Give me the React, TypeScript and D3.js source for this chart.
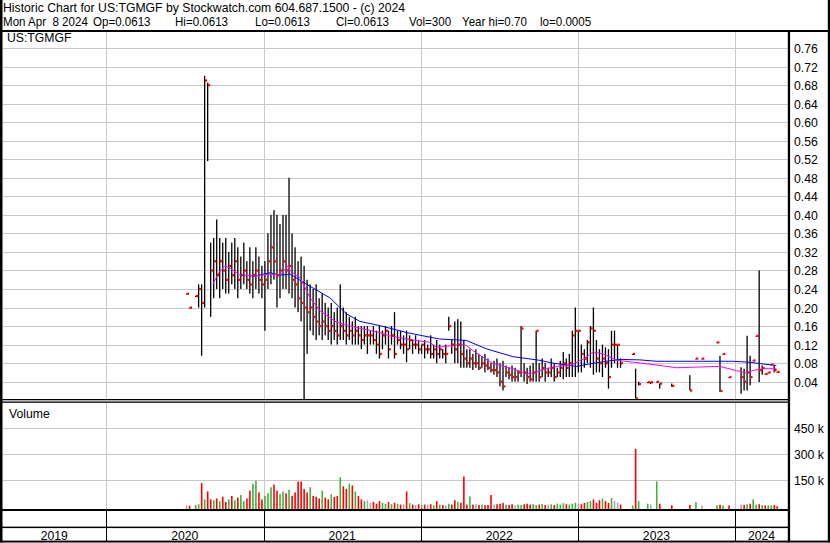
import React from "react";
import * as d3 from "d3";

// ---------------- DATA ----------------
const weekStart = "2020-07-06";

const weekHigh: (number | null)[] = [
  0.23, 0.2, null, 0.225, 0.25, 0.25, 0.7, 0.685, 0.34, 0.35,
  0.39, 0.35, 0.34, 0.35, 0.32, 0.34, 0.35, 0.33, 0.31, 0.34,
  0.3, 0.33, 0.3, 0.33, 0.31, 0.29, 0.3, 0.36, 0.4, 0.41,
  0.4, 0.38, 0.4, 0.4, 0.48, 0.36, 0.33, 0.3, 0.31, 0.29,
  0.26, 0.25, 0.24, 0.25, 0.22, 0.23, 0.21, 0.2, 0.21, 0.19,
  0.2, 0.25, 0.2, 0.19, 0.18, 0.17, 0.18, 0.16, 0.16, 0.16,
  0.16, 0.15, 0.16, 0.15, 0.16, 0.15, 0.16, 0.15, 0.16, 0.19,
  0.15, 0.15, 0.14, 0.15, 0.14, 0.13, 0.14, 0.13, 0.12, 0.13,
  0.12, 0.14, 0.12, 0.13, 0.12, 0.11, 0.12, 0.18, 0.13, 0.17,
  0.175, 0.17, 0.13, 0.11, 0.11, 0.1, 0.11, 0.1, 0.095, 0.1,
  0.09, 0.08, 0.085, 0.09, 0.08, 0.085, 0.075, 0.07, 0.075, 0.07,
  0.065, 0.16, 0.08, 0.07, 0.075, 0.08, 0.15, 0.08, 0.09, 0.08,
  0.07, 0.09, 0.08, 0.07, 0.085, 0.104, 0.09, 0.1, 0.15, 0.2,
  0.15, 0.12, 0.11, 0.13, 0.16, 0.2, 0.13, 0.11, 0.12, 0.114,
  0.11, 0.15, 0.15, 0.12, 0.09, null, null, null, 0.1, 0.068,
  0.04, null, null, 0.039, 0.039, null, 0.04, 0.036, null, null,
  null, 0.036, null, null, null, null, null, 0.054, null, 0.09,
  null, 0.09, null, null, null, null, 0.125, 0.096, 0.1, null,
  0.05, null, null, null, 0.071, 0.068, 0.139, 0.096, 0.086, 0.139,
  0.28, 0.075, 0.057, 0.06, 0.077, 0.075, 0.0613,
];

const weekLow: (number | null)[] = [
  0.23, 0.2, null, 0.225, 0.2, 0.096, 0.2, 0.516, 0.18, 0.22,
  0.24, 0.22, 0.24, 0.23, 0.23, 0.25, 0.24, 0.22, 0.24, 0.25,
  0.24, 0.23, 0.22, 0.24, 0.23, 0.22, 0.15, 0.24, 0.25, 0.26,
  0.2, 0.22, 0.24, 0.24, 0.23, 0.22, 0.2, 0.19, 0.17, 0.0005,
  0.1, 0.15, 0.14, 0.13, 0.14, 0.13, 0.14, 0.13, 0.12, 0.13,
  0.12, 0.13, 0.13, 0.12, 0.13, 0.12, 0.12, 0.12, 0.11, 0.12,
  0.1, 0.12, 0.12, 0.1, 0.09, 0.11, 0.12, 0.09, 0.12, 0.09,
  0.12, 0.11, 0.1, 0.082, 0.11, 0.1, 0.11, 0.1, 0.1, 0.09,
  0.1, 0.09, 0.09, 0.08, 0.09, 0.09, 0.08, 0.15, 0.1, 0.08,
  0.08, 0.07, 0.07, 0.07, 0.07, 0.065, 0.07, 0.065, 0.07, 0.06,
  0.065, 0.06, 0.055, 0.05, 0.03, 0.021, 0.05, 0.045, 0.04, 0.04,
  0.04, 0.05, 0.04, 0.035, 0.04, 0.04, 0.04, 0.04, 0.05, 0.04,
  0.05, 0.05, 0.04, 0.05, 0.05, 0.045, 0.05, 0.05, 0.05, 0.05,
  0.06, 0.06, 0.07, 0.08, 0.07, 0.055, 0.06, 0.06, 0.05, 0.07,
  0.025, 0.07, 0.08, 0.07, 0.07, null, null, null, 0.1, 0.004,
  0.032, null, null, 0.039, 0.035, null, 0.04, 0.025, null, null,
  null, 0.029, null, null, null, null, null, 0.021, null, 0.09,
  null, 0.09, null, null, null, null, 0.125, 0.018, 0.1, null,
  0.05, null, null, null, 0.014, 0.021, 0.021, 0.032, 0.086, 0.139,
  0.039, 0.055, 0.057, 0.06, 0.077, 0.06, 0.0613,
];

const weekClose: (number | null)[] = [
  0.23, 0.2, null, 0.225, 0.24, 0.21, 0.69, 0.68, 0.28, 0.3,
  0.27, 0.3, 0.28, 0.26, 0.29, 0.27, 0.3, 0.26, 0.27, 0.28,
  0.26, 0.25, 0.27, 0.28, 0.26, 0.25, 0.26, 0.3, 0.33, 0.3,
  0.27, 0.28, 0.3, 0.28, 0.29, 0.26, 0.25, 0.22, 0.21, 0.2,
  0.19, 0.2, 0.18, 0.17, 0.16, 0.17, 0.16, 0.15, 0.16, 0.15,
  0.14, 0.16, 0.15, 0.14, 0.15, 0.14, 0.15, 0.14, 0.13, 0.14,
  0.14, 0.14, 0.13, 0.12, 0.1, 0.14, 0.15, 0.11, 0.14, 0.1,
  0.13, 0.12, 0.12, 0.11, 0.13, 0.12, 0.12, 0.11, 0.12, 0.11,
  0.11, 0.1, 0.11, 0.1, 0.11, 0.1, 0.1, 0.16, 0.12, 0.11,
  0.12, 0.1, 0.09, 0.08, 0.09, 0.08, 0.08, 0.07, 0.08, 0.075,
  0.07, 0.065, 0.065, 0.06, 0.04, 0.03, 0.06, 0.055, 0.05, 0.05,
  0.06, 0.155, 0.06, 0.05, 0.045, 0.06, 0.15, 0.05, 0.07, 0.06,
  0.06, 0.07, 0.05, 0.06, 0.07, 0.08, 0.07, 0.08, 0.14, 0.15,
  0.15, 0.1, 0.09, 0.125, 0.155, 0.15, 0.09, 0.08, 0.09, 0.08,
  0.05, 0.12, 0.12, 0.12, 0.08, null, null, null, 0.1, 0.004,
  0.035, null, null, 0.039, 0.039, null, 0.04, 0.036, null, null,
  null, 0.031, null, null, null, null, null, 0.021, null, 0.09,
  null, 0.09, null, null, null, null, 0.125, 0.02, 0.1, null,
  0.05, null, null, null, 0.05, 0.04, 0.06, 0.05, 0.086, 0.139,
  0.065, 0.07, 0.057, 0.06, 0.077, 0.065, 0.0613,
];

// volume in thousands of shares
const weekVolK: number[] = [
  5, 3, 0, 8, 12, 134, 40, 86, 40, 35,
  45, 30, 55, 25, 40, 60, 35, 50, 65, 30,
  45, 90, 130, 147, 80, 40, 60, 75, 110, 125,
  90, 70, 85, 75, 95, 60, 80, 143, 143, 100,
  80, 110, 60, 55, 45, 90, 50, 40, 70, 55,
  60, 167, 115, 100, 130, 120, 85, 60, 40, 30,
  35, 20, 25, 15, 30, 20, 15, 25, 12, 20,
  15, 10, 12, 86, 18, 10, 8, 12, 6, 10,
  8, 12, 6, 30, 10, 8, 6, 15, 10, 35,
  25, 20, 172, 10, 57, 10, 12, 8, 10, 6,
  8, 65, 10, 12, 15, 20, 10, 8, 12, 6,
  10, 8, 12, 15, 10, 12, 8, 10, 14, 8,
  10, 12, 8, 15, 10, 18, 12, 10, 15, 20,
  15, 12, 20, 25, 30, 40, 20, 35, 45, 30,
  20, 48, 30, 22, 10, 0, 0, 0, 5, 331,
  30, 0, 0, 15, 10, 0, 144, 15, 0, 0,
  0, 6, 0, 0, 0, 0, 0, 8, 0, 24,
  0, 5, 0, 0, 0, 0, 5, 9, 5, 0,
  5, 0, 0, 0, 10, 8, 12, 15, 40, 10,
  12, 8, 5, 6, 5, 8, 0.3,
];

// moving averages
const maLongDates = [
  "2020-11-07", "2020-12-12", "2021-01-16", "2021-02-08", "2021-03-04", "2021-04-11",
  "2021-06-04", "2021-07-13", "2021-08-13", "2021-09-28", "2021-11-29", "2022-01-06",
  "2022-02-14", "2022-04-17", "2022-06-02", "2022-08-03", "2022-10-05", "2022-11-04",
  "2022-12-30", "2023-02-06", "2023-04-09", "2023-05-25", "2023-07-03", "2023-12-26",
  "2024-02-04", "2024-02-27", "2024-04-06",
];
const maLongVals = [
  0.27, 0.268, 0.275, 0.27, 0.272, 0.25,
  0.221, 0.186, 0.17, 0.161, 0.146, 0.139,
  0.132, 0.129, 0.111, 0.094, 0.086, 0.08,
  0.073, 0.08, 0.088, 0.087, 0.084, 0.084,
  0.082, 0.079, 0.075,
];

const maShortDates = [
  "2020-09-05", "2020-09-19", "2020-10-03", "2020-10-15", "2020-11-07", "2020-12-12",
  "2021-01-16", "2021-02-08", "2021-02-27", "2021-03-04", "2021-03-27", "2021-04-19",
  "2021-05-12", "2021-06-20", "2021-08-05", "2021-09-28", "2021-10-21", "2021-11-29",
  "2022-01-22", "2022-02-07", "2022-03-17", "2022-04-02", "2022-04-17", "2022-05-02",
  "2022-06-18", "2022-08-03", "2022-09-03", "2022-09-19", "2022-10-21", "2022-11-13",
  "2022-12-14", "2023-01-14", "2023-02-06", "2023-03-01", "2023-04-01", "2023-05-10",
  "2023-07-11", "2023-08-18", "2023-11-26", "2024-01-04", "2024-01-27", "2024-02-11",
  "2024-03-06", "2024-04-06",
];
const maShortVals = [
  0.25, 0.275, 0.29, 0.285, 0.27, 0.268,
  0.272, 0.27, 0.29, 0.279, 0.264, 0.221,
  0.193, 0.168, 0.157, 0.146, 0.139, 0.132,
  0.125, 0.114, 0.118, 0.121, 0.118, 0.107,
  0.079, 0.068, 0.057, 0.059, 0.068, 0.073,
  0.075, 0.089, 0.104, 0.1, 0.086, 0.082,
  0.075, 0.07, 0.073, 0.064, 0.059, 0.064,
  0.068, 0.068,
];

const priceTicks = [0.04, 0.08, 0.12, 0.16, 0.2, 0.24, 0.28, 0.32, 0.36, 0.4, 0.44, 0.48, 0.52, 0.56, 0.6, 0.64, 0.68, 0.72, 0.76];
const volTicks = [150000, 300000, 450000];
const volTickLabels = ["150 k", "300 k", "450 k"];
const yearStarts = ["2020-01-01", "2021-01-01", "2022-01-01", "2023-01-01", "2024-01-01"];
const yearLabels = ["2019", "2020", "2021", "2022", "2023", "2024"];

const headerLine1 = "Historic Chart for US:TGMGF by Stockwatch.com 604.687.1500 - (c) 2024";
// second header line, as its separate fields
const headerFields = ["Mon Apr  8 2024", "Op=0.0613", "Hi=0.0613", "Lo=0.0613", "Cl=0.0613", "Vol=300", "Year hi=0.70", "lo=0.0005"];
const symbolLabel = "US:TGMGF";
const volumeLabel = "Volume";

// ---------------- CHART ----------------
const W = 830;
const H = 543;
const FONT = "'Liberation Sans', Arial, sans-serif";
const GRID = "#c8c8c8";
const HEADER_FIELD_X = [3, 93, 175, 255, 336, 409, 462, 540];

function Txt(props: { x: number; y: number; anchor?: string; sx?: number; fs?: number; children: React.ReactNode }) {
  const { x, y, anchor = "start", sx = 0.94, fs = 13, children } = props;
  return (
    <text
      transform={`translate(${x},${y}) scale(${sx},1)`}
      fontFamily={FONT}
      fontSize={fs}
      fill="#000"
      textAnchor={anchor}
      xmlSpace="preserve"
      style={{ whiteSpace: "pre" }}
    >
      {children}
    </text>
  );
}

// keep runs of spaces visible in SVG text
const keepSpaces = (s: string) => s.replace(/ {2}/g, " \u00a0");

export default function App() {
  const parse = d3.utcParse("%Y-%m-%d");
  const x = d3
    .scaleUtc()
    .domain([parse("2020-01-01") as Date, parse("2024-01-01") as Date])
    .range([106, 735]);
  const yP = d3.scaleLinear().domain([0, 0.76]).range([400.2, 48]);
  const yV = d3.scaleLinear().domain([0, 450000]).range([506.3, 428.3]);

  const start = parse(weekStart) as Date;
  const weeks = weekHigh.map((h, i) => ({
    date: d3.utcDay.offset(start, 7 * i),
    h,
    l: weekLow[i],
    c: weekClose[i],
    v: weekVolK[i] * 1000,
  }));

  // volume colour from close change
  let prev: number | null = null;
  const volColors = weeks.map((w) => {
    let col = "#a8a8a8";
    if (w.c != null) {
      if (prev != null) {
        if (w.c > prev) col = "#3cb43c";
        else if (w.c < prev) col = "#ff0000";
      }
      prev = w.c;
    }
    return col;
  });

  const line = d3
    .line<[Date, number]>()
    .x((d) => x(d[0]))
    .y((d) => yP(d[1]));
  const maLong = line(maLongDates.map((d, i) => [parse(d) as Date, maLongVals[i]]));
  const maShort = line(maShortDates.map((d, i) => [parse(d) as Date, maShortVals[i]]));

  const plotL = 2.5;
  const plotR = 788;
  const yearX = yearStarts.map((d) => x(parse(d) as Date));
  const bounds = [plotL, ...yearX, plotR];
  const crisp = (v: number) => Math.round(v) + 0.5;

  return (
    <svg
      width={W}
      height={H}
      viewBox={`0 0 ${W} ${H}`}
      style={{ position: "absolute", left: 0, top: 0, background: "#fff" }}
    >
      <rect x={0} y={0} width={W} height={H} fill="#fff" />
      <defs>
        <clipPath id="pclip">
          <rect x={plotL} y={32} width={plotR - plotL} height={368} />
        </clipPath>
        <clipPath id="vclip">
          <rect x={plotL} y={403} width={plotR - plotL} height={106} />
        </clipPath>
      </defs>

      {/* header */}
      <Txt x={3} y={11.5} fs={12.5} sx={0.978}>{headerLine1}</Txt>
      {headerFields.map((f, i) => (
        <Txt key={"hf" + i} x={HEADER_FIELD_X[i]} y={25.5} fs={12.5} sx={0.926}>{keepSpaces(f)}</Txt>
      ))}

      {/* price grid */}
      {priceTicks.map((t) => (
        <line key={"pg" + t} x1={plotL} x2={plotR} y1={crisp(yP(t))} y2={crisp(yP(t))} stroke={GRID} strokeWidth={1} />
      ))}
      {yearX.map((v, i) => (
        <line key={"vgp" + i} x1={crisp(v)} x2={crisp(v)} y1={32} y2={399} stroke={GRID} strokeWidth={1} />
      ))}
      {/* volume grid */}
      {volTicks.map((t) => (
        <line key={"vg" + t} x1={plotL} x2={plotR} y1={crisp(yV(t))} y2={crisp(yV(t))} stroke={GRID} strokeWidth={1} />
      ))}
      {yearX.map((v, i) => (
        <line key={"vgv" + i} x1={crisp(v)} x2={crisp(v)} y1={403} y2={509} stroke={GRID} strokeWidth={1} />
      ))}

      {/* price bars */}
      <g clipPath="url(#pclip)">
        {weeks.map((w, i) =>
          w.h == null || w.l == null ? null : (
            <rect
              key={"b" + i}
              x={x(w.date) - 0.6}
              y={yP(w.h)}
              width={1.3}
              height={Math.max(1, yP(w.l) - yP(w.h))}
              fill="#000"
            />
          )
        )}
        <path d={maLong ?? ""} fill="none" stroke="#0000ff" strokeWidth={1} />
        <path d={maShort ?? ""} fill="none" stroke="#ff00ff" strokeWidth={1} />
        {weeks.map((w, i) =>
          w.c == null ? null : (
            <rect key={"c" + i} x={x(w.date) + 0.3} y={yP(w.c) - 1} width={2.2} height={2.2} fill="#ff0000" />
          )
        )}
      </g>

      {/* volume bars */}
      <g clipPath="url(#vclip)">
        {weeks.map((w, i) =>
          w.v <= 0 ? null : (
            <rect
              key={"v" + i}
              x={x(w.date) - 0.7}
              y={yV(w.v)}
              width={1.6}
              height={509 - yV(w.v)}
              fill={volColors[i]}
            />
          )
        )}
      </g>

      {/* labels inside panels */}
      <Txt x={7} y={42}>{symbolLabel}</Txt>
      <Txt x={9} y={418}>{volumeLabel}</Txt>

      {/* right axis labels */}
      {priceTicks.map((t) => (
        <Txt key={"pl" + t} x={794} y={yP(t) + 5}>{d3.format(".2f")(t)}</Txt>
      ))}
      {volTicks.map((t, i) => (
        <Txt key={"vl" + t} x={794} y={yV(t) + 5}>{volTickLabels[i]}</Txt>
      ))}

      {/* bottom rows: separators and year labels */}
      {yearX.map((v, i) => (
        <line key={"ys" + i} x1={crisp(v)} x2={crisp(v)} y1={510} y2={541} stroke="#000" strokeWidth={1} />
      ))}
      {yearLabels.map((lab, i) => (
        <Txt key={"yl" + lab} x={(bounds[i] + bounds[i + 1]) / 2} y={539.5} anchor="middle">{lab}</Txt>
      ))}

      {/* frame lines */}
      <rect x={0} y={30} width={W} height={2} fill="#000" />
      <rect x={0} y={399} width={plotR} height={1.3} fill="#000" />
      <rect x={0} y={401.5} width={plotR} height={1.3} fill="#000" />
      <rect x={0} y={509} width={plotR} height={2} fill="#000" />
      <rect x={0} y={526.6} width={plotR} height={1.5} fill="#000" />
      <rect x={0} y={540.6} width={W} height={1.9} fill="#000" />
      <rect x={0} y={0} width={2.5} height={542.5} fill="#000" />
      <rect x={787.8} y={30} width={2.3} height={512.5} fill="#000" />
      <rect x={827.8} y={0} width={2.2} height={542.5} fill="#000" />
    </svg>
  );
}
